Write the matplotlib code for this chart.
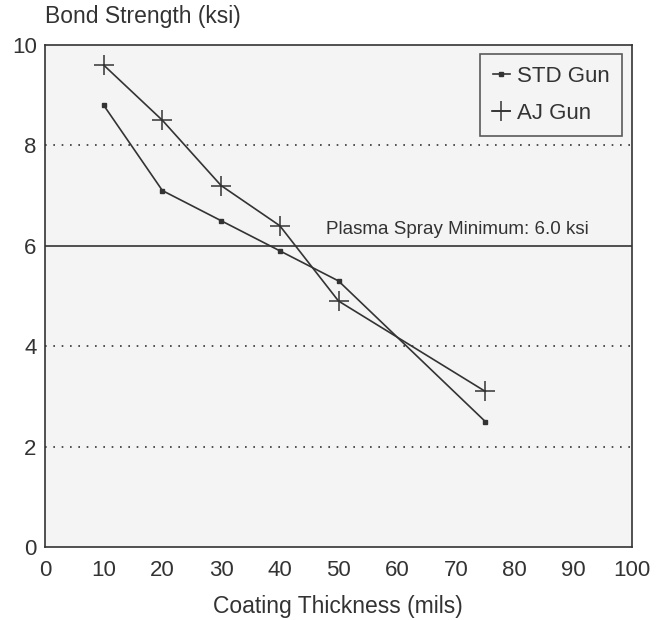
import matplotlib
matplotlib.use('Agg')
import matplotlib.pyplot as plt

plt.rcParams['font.family'] = ['Liberation Sans', 'DejaVu Sans']

# data
thickness = [10, 20, 30, 40, 50, 75]
std_gun = [8.8, 7.1, 6.5, 5.9, 5.3, 2.5]
aj_gun = [9.6, 8.5, 7.2, 6.4, 4.9, 3.1]
minimum = 6.0
grid_levels = [2, 4, 8]

ink = '#333333'

fig = plt.figure(figsize=(6.65, 6.2), dpi=100)
ax = fig.add_axes([45/665, 1 - 547/620, 587/665, 502/620])
ax.set_facecolor('#f4f4f4')

for g in grid_levels:
    ax.axhline(g, color=ink, lw=1.2, ls=(0, (1, 4)))
ax.axhline(minimum, color=ink, lw=1.2)
ax.text(47.8, minimum + 0.15, 'Plasma Spray Minimum: 6.0 ksi', fontsize=13.5,
        color=ink, ha='left', va='bottom')

ax.plot(thickness, std_gun, color=ink, lw=1.2, marker='s', ms=3,
        label='STD Gun')
ax.plot(thickness, aj_gun, color=ink, lw=1.2, marker='+', ms=14, mew=1.1,
        label='AJ Gun')

ax.set_xlim(0, 100)
ax.set_ylim(0, 10)
ax.set_xticks(range(0, 101, 10))
ax.set_yticks(range(0, 11, 2))
ax.tick_params(length=0, labelsize=16, colors=ink)
ax.tick_params(axis='x', pad=9)
ax.tick_params(axis='y', pad=6)
for s in ax.spines.values():
    s.set_color(ink)
    s.set_linewidth(1.2)

fig.text(338/665, 1 - 606/620, 'Coating Thickness (mils)', fontsize=16.5,
         color=ink, ha='center', va='center')
fig.text(45/665, 1 - 17/620, 'Bond Strength (ksi)', fontsize=16.5, color=ink,
         ha='left', va='center')

leg = ax.legend(loc='upper right', fontsize=16, frameon=True, fancybox=False,
                handlelength=0.8, handletextpad=0.3, borderpad=0.55,
                labelspacing=0.7, borderaxespad=0,
                bbox_to_anchor=(577/587, 1 - 9/502))
leg.get_frame().set_edgecolor(ink)
leg.get_frame().set_facecolor('#f4f4f4')
leg.get_frame().set_linewidth(1.2)
for t in leg.get_texts():
    t.set_color(ink)

fig.savefig('out.png', dpi=100)
